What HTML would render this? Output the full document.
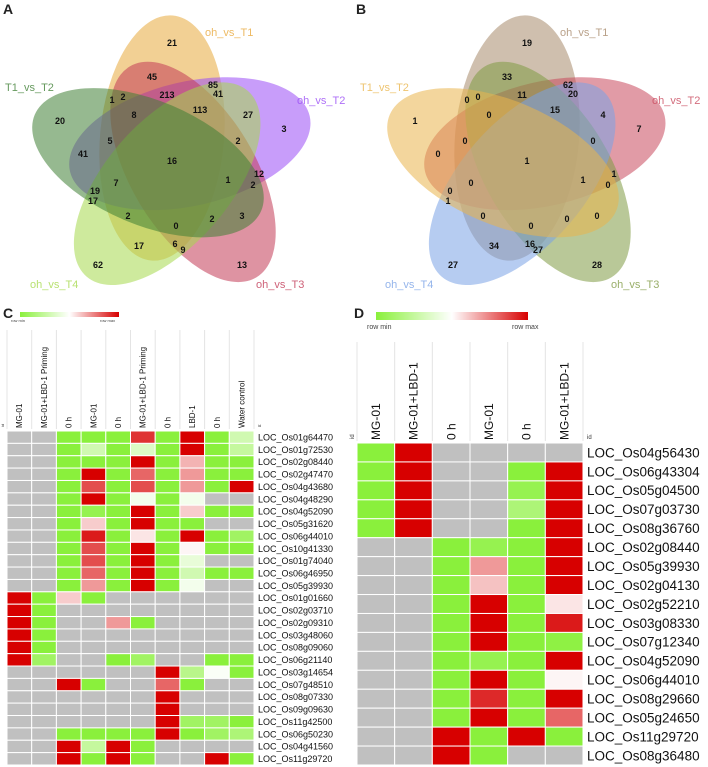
<!DOCTYPE html>
<html><head><meta charset="utf-8"><style>
html,body{margin:0;padding:0;background:#fff;}
svg{display:block;font-family:"Liberation Sans",Arial,sans-serif;}
</style></head><body>
<svg id="fig" width="708" height="767" viewBox="0 0 708 767" xmlns="http://www.w3.org/2000/svg"></svg>
<script>
// ---------- Venn data ----------
const vennASets = ["oh_vs_T1","oh_vs_T2","oh_vs_T3","oh_vs_T4","T1_vs_T2"];
const vennAColors = ["#e8a93c","#9a4cf5","#c23a56","#a6d94c","#3f7f34"];
const vennACounts = [21,45,85,1,2,213,41,113,27,3,20,8,5,2,41,16,12,1,2,7,19,17,2,0,2,3,17,6,9,62,13];
const vennBSets = ["oh_vs_T1","oh_vs_T2","oh_vs_T3","oh_vs_T4","T1_vs_T2"];
const vennBColors = ["#a88a6c","#c8485c","#7f9a44","#7aa2e6","#eab54c"];
const vennBCounts = [19,33,62,0,0,11,20,15,4,7,1,0,0,0,0,1,1,1,0,0,0,1,0,0,0,0,34,16,27,27,28];

// ---------- Heatmap C data ----------
const heatCCols = ["MG-01","MG-01+LBD-1 Priming","0 h","MG-01","0 h","MG-01+LBD-1 Priming","0 h","LBD-1","0 h","Water control"];
const heatCRows = ["LOC_Os01g64470","LOC_Os01g72530","LOC_Os02g08440","LOC_Os02g47470","LOC_Os04g43680","LOC_Os04g48290","LOC_Os04g52090","LOC_Os05g31620","LOC_Os06g44010","LOC_Os10g41330","LOC_Os01g74040","LOC_Os06g46950","LOC_Os05g39930","LOC_Os01g01660","LOC_Os02g03710","LOC_Os02g09310","LOC_Os03g48060","LOC_Os08g09060","LOC_Os06g21140","LOC_Os03g14654","LOC_Os07g48510","LOC_Os08g07330","LOC_Os09g09630","LOC_Os11g42500","LOC_Os06g50230","LOC_Os04g41560","LOC_Os11g29720"];
const N=null;
const heatCValues = [
[N,N,0,0,0,0.9,0,1,0,0.3],
[N,N,0,0.3,0,0.35,0,1,0,0.25],
[N,N,0,0,0,1,0,0.65,0,0],
[N,N,0,1,0,0.8,0,0.7,0,0],
[N,N,0,0.85,0,0.85,0,0.7,0,1],
[N,N,0,1,0,0.45,0,0.45,N,N],
[N,N,0,0.05,0,1,0,0.6,0,0],
[N,N,0,0.6,0,1,0,0,N,N],
[N,N,0,0.95,0,0.55,0,1,0,0.1],
[N,N,0,0.85,0,1,0,0.52,0,0],
[N,N,0,0.85,0,1,0,0.4,N,N],
[N,N,0,0.8,0,1,0,0.3,0,0],
[N,N,0,0.7,0,1,0,0.45,N,N],
[1,0,0.6,0,N,N,N,N,N,N],
[1,0,N,N,N,N,N,N,N,N],
[1,0,N,N,0.7,0,N,N,N,N],
[1,0,N,N,N,N,N,N,N,N],
[1,0,N,N,N,N,N,N,N,N],
[1,0.1,N,N,0,0.1,N,N,0,0],
[N,N,N,N,N,N,1,0.2,0.48,0],
[N,N,1,0,N,N,0.8,0,N,N],
[N,N,N,N,N,N,1,N,N,N],
[N,N,N,N,N,N,1,N,N,N],
[N,N,N,N,N,N,1,0.1,0.1,0],
[N,N,0,0,0,0,1,0,0.1,0.15],
[N,N,1,0.25,1,0,N,N,N,N],
[N,N,1,0,1,0,N,N,1,0]
];

// ---------- Heatmap D data ----------
const heatDCols = ["MG-01","MG-01+LBD-1","0 h","MG-01","0 h","MG-01+LBD-1"];
const heatDRows = ["LOC_Os04g56430","LOC_Os06g43304","LOC_Os05g04500","LOC_Os07g03730","LOC_Os08g36760","LOC_Os02g08440","LOC_Os05g39930","LOC_Os02g04130","LOC_Os02g52210","LOC_Os03g08330","LOC_Os07g12340","LOC_Os04g52090","LOC_Os06g44010","LOC_Os08g29660","LOC_Os05g24650","LOC_Os11g29720","LOC_Os08g36480"];
const heatDValues = [
[0,1,N,N,N,N],
[0,1,N,N,0,1],
[0,1,N,N,0.05,1],
[0,1,N,N,0.15,1],
[0,1,N,N,0,1],
[N,N,0,0.05,0,1],
[N,N,0,0.7,0,1],
[N,N,0,0.62,0,1],
[N,N,0,1,0,0.55],
[N,N,0,1,0,0.95],
[N,N,0,1,0,0.02],
[N,N,0,0.05,0,1],
[N,N,0,1,0,0.52],
[N,N,0,0.92,0,1],
[N,N,0,1,0,0.8],
[N,N,1,0,1,0],
[N,N,1,0,N,N]
];

const NS="http://www.w3.org/2000/svg";
const svg=document.getElementById('fig');
function mk(tag,attrs,parent){const e=document.createElementNS(NS,tag);for(const k in attrs)e.setAttribute(k,attrs[k]);(parent||svg).appendChild(e);return e;}
function txt(s,attrs,parent){const e=mk('text',attrs,parent);e.textContent=s;return e;}

// panel letters
[["A",3,14],["B",356,14],["C",3,318],["D",354,318]].forEach(p=>{
  const t=txt(p[0],{x:p[1],y:p[2],'font-size':14,'font-weight':'bold',fill:'#222'});
  
  
});

// ---------- Venn ----------
const numPos=[[172,43],[152,77],[213,85],[112,100],[123,97],[167,95],[218,94],[200,110],[248,115],[284,129],[60,121],[134,115],[110,141],[238,141],[83,154],[172,161],[259,174],[228,180],[253,185],[116,183],[95,191],[93,201],[128,216],[176,226],[212,219],[242,216],[139,246],[175,244],[183,250],[98,265],[242,265]];
const labelPos=[[205,36,'start'],[297,104,'start'],[256,288,'start'],[30,288,'start'],[5,91,'start']];
function venn(ox,sets,colors,counts,name,opacity){
  const g=mk('g',{});
  
  
  const cx=ox+172, cy=160, vx=-10, vy=-22;
  for(let k=0;k<5;k++){
    const a=72*k*Math.PI/180;
    const ex=cx+vx*Math.cos(a)-vy*Math.sin(a);
    const ey=cy+vx*Math.sin(a)+vy*Math.cos(a);
    const e=mk('ellipse',{cx:ex,cy:ey,rx:62,ry:123,transform:`rotate(${5+72*k} ${ex} ${ey})`,fill:colors[k],'fill-opacity':opacity},g);
    
    
  }
  for(let k=0;k<5;k++){
    const t=txt(sets[k],{x:ox+labelPos[k][0],y:labelPos[k][1],'font-size':11,fill:colors[k],'fill-opacity':0.8},g);
    
    
  }
  counts.forEach((c,i)=>{
    const t=txt(String(c),{x:ox+numPos[i][0],y:numPos[i][1]+3,'font-size':9,'font-weight':'bold','text-anchor':'middle',fill:'#111'},g);
    
    
  });
}
venn(0,vennASets,vennAColors,vennACounts,'venn-diagram-a',0.55);
venn(355,vennBSets,vennBColors,vennBCounts,'venn-diagram-b',0.55);

// ---------- Heatmaps ----------
function col(v){
  if(v===null) return '#c0c0c0';
  const G=[138,240,60],W=[255,255,255],R=[215,0,0];
  let a,b,t;
  if(v<=0.5){a=G;b=W;t=v/0.5;}else{a=W;b=R;t=(v-0.5)/0.5;}
  return `rgb(${a.map((x,i)=>Math.round(x+(b[i]-x)*t)).join(',')})`;
}
function legend(x,y,w,h,fs,name,ty,maxX){
  const g=mk('g',{});
  
  
  const id=name+'-grad';
  const d=mk('defs',{},g);
  const lg=mk('linearGradient',{id:id,x1:0,x2:1,y1:0,y2:0},d);
  mk('stop',{offset:'0','stop-color':'#8af03c'},lg);
  mk('stop',{offset:'0.5','stop-color':'#ffffff'},lg);
  mk('stop',{offset:'1','stop-color':'#d70000'},lg);
  mk('rect',{x:x,y:y,width:w,height:h,fill:`url(#${id})`},g);
  txt('row min',{x:x-9,y:ty,'font-size':fs,fill:'#444'},g);
  txt('row max',{x:maxX,y:ty,'font-size':fs,fill:'#444'},g);
}
function heatmap(o){
  const g=mk('g',{});
  
  
  const nC=o.cols.length,nR=o.rows.length;
  const cw=o.w/nC, rh=o.h/nR;
  // header lines
  for(let c=0;c<=nC;c++){
    const l=mk('line',{x1:o.x+c*cw,x2:o.x+c*cw,y1:o.hTop,y2:o.y-2,stroke:'#e4e4e4','stroke-width':1},g);
    
    
  }
  o.cols.forEach((c,i)=>{
    const tx=o.x+i*cw+cw/2+o.hfs*0.35, ty=o.y-3;
    const t=txt(c,{x:tx,y:ty,'font-size':o.hfs,fill:'#111',transform:`rotate(-90 ${tx} ${ty})`},g);
    
    
  });
  txt('id',{x:o.x-3,y:o.y-4,'font-size':o.idfs,fill:'#333',transform:`rotate(-90 ${o.x-3} ${o.y-4})`},g);
  txt('id',{x:o.x+o.w+4,y:o.y-4,'font-size':o.idfs,fill:'#333'},g);
  o.vals.forEach((row,r)=>{
    row.forEach((v,c)=>{
      const rc=mk('rect',{x:o.x+c*cw,y:o.y+r*rh,width:cw,height:rh,fill:col(v),stroke:'#fff','stroke-width':1},g);
      
      
    });
    const t=txt(o.rows[r],{x:o.x+o.w+4,y:o.y+r*rh+rh/2+o.lfs*0.36,'font-size':o.lfs,fill:'#111'},g);
    
    
  });
}
legend(20,312,99,5,4,'color-legend-c',322,100);
legend(376,312,152,8,7,'color-legend-d',329,512);
heatmap({name:'heatmap-c',cols:heatCCols,rows:heatCRows,vals:heatCValues,x:7,y:431,w:247,h:334,hTop:330,hfs:8,lfs:9,idfs:4});
heatmap({name:'heatmap-d',cols:heatDCols,rows:heatDRows,vals:heatDValues,x:357,y:443,w:226,h:322,hTop:342,hfs:12,lfs:13.5,idfs:6});
</script>
</body></html>
